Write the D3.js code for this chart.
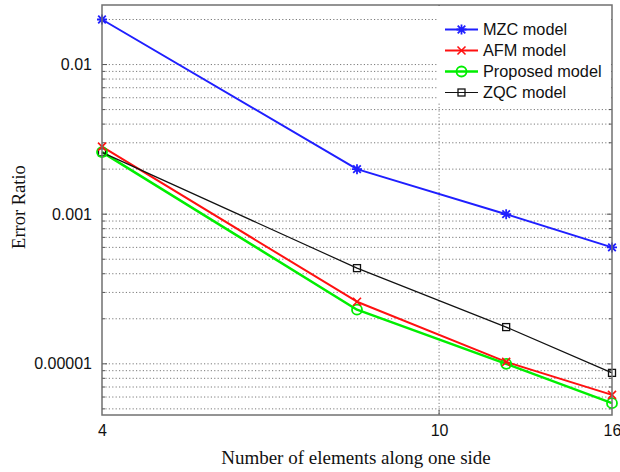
<!DOCTYPE html>
<html>
<head>
<meta charset="utf-8">
<script src="https://cdn.jsdelivr.net/npm/d3@7"></script>
<style>
  html, body { margin: 0; padding: 0; background: #fff; }
  svg { display: block; }
</style>
</head>
<body>
<div id="chart"></div>
<script>
// ---- data ----
const xValues = [4, 8, 12, 16];
const seriesNames = ["MZC model", "AFM model", "Proposed model", "ZQC model"];
const mzcValues = [0.02, 0.002, 0.001, 0.0006];
const afmValues = [0.00283, 0.00026, 0.000103, 0.000062];
const proposedValues = [0.0026, 0.00023, 0.0001, 0.0000546];
const zqcValues = [0.00259, 0.000436, 0.000176, 0.000087];
const xTickValues = [4, 10, 16];
const xTickLabels = ["4", "10", "16"];
const yTickValues = [0.01, 0.001, 0.0001];
const yTickLabels = ["0.01", "0.001", "0.00001"];
const xTitle = "Number of elements along one side";
const yTitle = "Error Ratio";

const W = 620, H = 472;
const L = 102, R = 612, T = 5, B = 415;

const svg = d3.select("#chart").append("svg").attr("width", W).attr("height", H);

const x = d3.scaleLog().domain([4, 16]).range([L, R]);
const y = d3.scaleLog().domain([4.55e-5, 0.025]).range([B, T]);

// minor gridline values
const yMinor = [];
[1e-5, 1e-4, 1e-3, 1e-2].forEach(d => {
  for (let k = 1; k <= 9; k++) {
    const v = d * k;
    if (v >= y.domain()[0] && v <= y.domain()[1]) yMinor.push(v);
  }
});

const grid = svg.append("g");
grid.selectAll("line.hy").data(yMinor).enter().append("line")
  .attr("x1", L).attr("x2", R)
  .attr("y1", d => y(d)).attr("y2", d => y(d))
  .attr("stroke", "#7a7a7a").attr("stroke-width", 1)
  .attr("stroke-dasharray", "1.2,2.2");
grid.selectAll("line.vx").data([10]).enter().append("line")
  .attr("x1", d => x(d)).attr("x2", d => x(d))
  .attr("y1", T).attr("y2", B)
  .attr("stroke", "#7a7a7a").attr("stroke-width", 1)
  .attr("stroke-dasharray", "1.2,2.2");

// inner ticks (left/right for y, top/bottom for x)
const tickG = svg.append("g").attr("stroke", "#555").attr("stroke-width", 1);
yMinor.forEach(v => {
  const major = Math.abs(Math.log10(v) - Math.round(Math.log10(v))) < 1e-9;
  const len = major ? 5 : 3;
  tickG.append("line").attr("x1", L).attr("x2", L + len).attr("y1", y(v)).attr("y2", y(v));
  tickG.append("line").attr("x1", R).attr("x2", R - len).attr("y1", y(v)).attr("y2", y(v));
});
[10].forEach(v => {
  tickG.append("line").attr("x1", x(v)).attr("x2", x(v)).attr("y1", B).attr("y2", B - 5);
  tickG.append("line").attr("x1", x(v)).attr("x2", x(v)).attr("y1", T).attr("y2", T + 5);
});

// axes labels via d3 axes
const yAxis = d3.axisLeft(y).tickValues(yTickValues)
  .tickFormat((d, i) => yTickLabels[i]).tickSize(0).tickPadding(10);
const gy = svg.append("g").attr("transform", `translate(${L},0)`).call(yAxis);
gy.select(".domain").remove();
gy.selectAll("text").attr("font-family", "Liberation Sans, Arial, sans-serif")
  .attr("font-size", 16).attr("fill", "#111");

const xAxis = d3.axisBottom(x).tickValues(xTickValues)
  .tickFormat((d, i) => xTickLabels[i]).tickSize(0).tickPadding(10);
const gx = svg.append("g").attr("transform", `translate(0,${B})`).call(xAxis);
gx.select(".domain").remove();
gx.selectAll("text").attr("font-family", "Liberation Sans, Arial, sans-serif")
  .attr("font-size", 16).attr("fill", "#111");

// series
const series = [
  { name: seriesNames[0], values: mzcValues, color: "#1f1fff", width: 2, marker: "star" },
  { name: seriesNames[1], values: afmValues, color: "#ff1010", width: 2, marker: "x" },
  { name: seriesNames[2], values: proposedValues, color: "#00ee00", width: 2.5, marker: "circle" },
  { name: seriesNames[3], values: zqcValues, color: "#111111", width: 1.2, marker: "square" }
];

const line = d3.line().x(d => x(d[0])).y(d => y(d[1]));

function drawMarker(g, type, cx, cy, color) {
  if (type === "star") {
    const r = 5, r2 = 3.8;
    g.append("path").attr("d",
      `M${cx - r},${cy}L${cx + r},${cy}M${cx},${cy - r}L${cx},${cy + r}` +
      `M${cx - r2},${cy - r2}L${cx + r2},${cy + r2}M${cx - r2},${cy + r2}L${cx + r2},${cy - r2}`)
      .attr("stroke", color).attr("stroke-width", 1.8).attr("fill", "none");
  } else if (type === "x") {
    const r = 4;
    g.append("path").attr("d",
      `M${cx - r},${cy - r}L${cx + r},${cy + r}M${cx - r},${cy + r}L${cx + r},${cy - r}`)
      .attr("stroke", color).attr("stroke-width", 1.6).attr("fill", "none");
  } else if (type === "circle") {
    g.append("circle").attr("cx", cx).attr("cy", cy).attr("r", 5)
      .attr("stroke", color).attr("stroke-width", 1.8).attr("fill", "none");
  } else if (type === "square") {
    const s = 3.5;
    g.append("rect").attr("x", cx - s).attr("y", cy - s).attr("width", 2 * s).attr("height", 2 * s)
      .attr("stroke", color).attr("stroke-width", 1.3).attr("fill", "none");
  }
}

const plotG = svg.append("g");
series.forEach(s => {
  const pts = xValues.map((xv, i) => [xv, s.values[i]]);
  plotG.append("path").datum(pts).attr("d", line)
    .attr("fill", "none").attr("stroke", s.color).attr("stroke-width", s.width)
    .attr("stroke-linejoin", "round");
});
series.slice().reverse().forEach(s => {
  xValues.forEach((xv, i) => drawMarker(plotG, s.marker, x(xv), y(s.values[i]), s.color));
});

// legend
const lg = svg.append("g");
lg.append("rect").attr("x", 437).attr("y", T + 1).attr("width", R - 437 - 1).attr("height", 97)
  .attr("fill", "#fff");
series.forEach((s, i) => {
  const ly = 29.5 + i * 21;
  lg.append("line").attr("x1", 445).attr("x2", 478).attr("y1", ly).attr("y2", ly)
    .attr("stroke", s.color).attr("stroke-width", s.width);
  drawMarker(lg, s.marker, 461.5, ly, s.color);
  lg.append("text").attr("x", 483).attr("y", ly + 5.8).text(s.name)
    .attr("font-family", "Liberation Sans, Arial, sans-serif").attr("font-size", 16.3)
    .attr("fill", "#111");
});

// axes box
svg.append("rect").attr("x", L).attr("y", T).attr("width", R - L).attr("height", B - T)
  .attr("fill", "none").attr("stroke", "#707070").attr("stroke-width", 1.5);

// titles
svg.append("text").attr("x", 356).attr("y", 464).attr("text-anchor", "middle")
  .attr("font-family", "Liberation Serif, Times New Roman, serif").attr("font-size", 19)
  .attr("fill", "#111").text(xTitle);
svg.append("text").attr("transform", "translate(25,207) rotate(-90)").attr("text-anchor", "middle")
  .attr("font-family", "Liberation Serif, Times New Roman, serif").attr("font-size", 18.5)
  .attr("fill", "#111").text(yTitle);
</script>
</body>
</html>
